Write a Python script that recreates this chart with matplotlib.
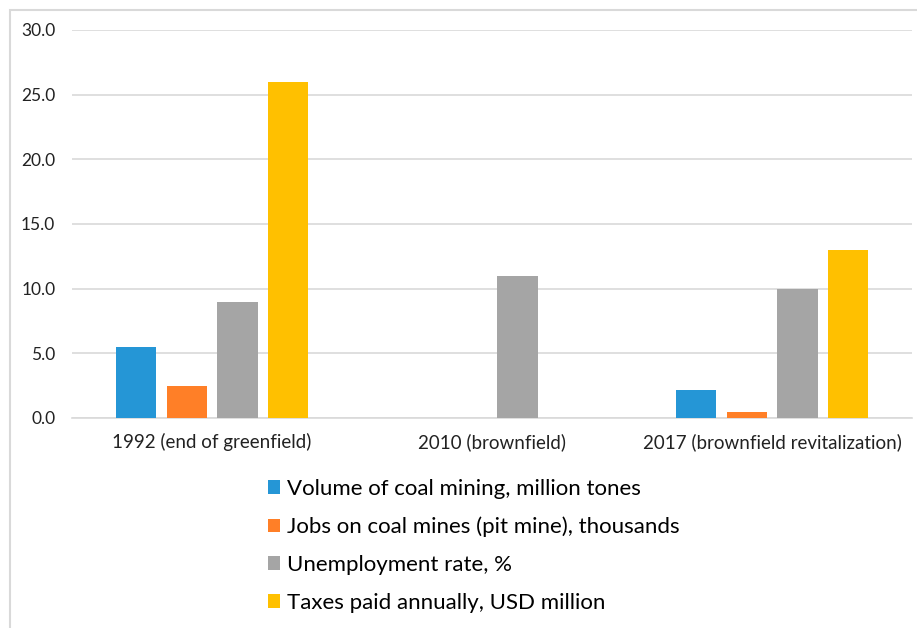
import matplotlib.pyplot as plt
import numpy as np
from matplotlib.patches import Rectangle

categories = ['1992 (end of greenfield)', '2010 (brownfield)', '2017 (brownfield revitalization)']
series_names = ['Volume of coal mining, million tones',
                'Jobs on coal mines (pit mine), thousands',
                'Unemployment rate, %',
                'Taxes paid annually, USD million']
coal_volume = [5.5, 0, 2.2]
coal_jobs = [2.5, 0, 0.5]
unemployment = [9, 11, 10]
taxes = [26, 0, 13]
colors = ['#2596D6', '#FF7F27', '#A5A5A5', '#FFC000']

plt.rcParams['font.family'] = ['Lato', 'DejaVu Sans']

fig = plt.figure(figsize=(9.17, 6.28), dpi=100)
ax = fig.add_axes([72/917, 1-418/628, 840/917, 388/628])

x = np.arange(len(categories))
step = 0.182
width = 0.143
for i, (vals, name, c) in enumerate(zip([coal_volume, coal_jobs, unemployment, taxes], series_names, colors)):
    ax.bar(x + (i - 1.5) * step, vals, width, color=c, label=name, zorder=3)

ax.set_xlim(-0.5, 2.5)
ax.set_ylim(0, 30)
ax.set_yticks(np.arange(0, 31, 5))
ax.set_yticklabels([f'{v:.1f}' for v in np.arange(0, 31, 5)], fontsize=12.5)
ax.set_xticks(x)
ax.set_xticklabels(categories, fontsize=13.5)
ax.tick_params(length=0, colors='#222222')
ax.tick_params(axis='x', pad=11)
ax.tick_params(axis='y', pad=12)
ax.grid(axis='y', color='#D9D9D9', linewidth=1.2, zorder=0)
for s in ['top', 'right', 'left']:
    ax.spines[s].set_visible(False)
ax.spines['bottom'].set_color('#D9D9D9')
ax.spines['bottom'].set_linewidth(1.2)

leg = fig.legend(loc='upper left', bbox_to_anchor=(259/917, 1-470/628), frameon=False,
                 fontsize=16, handlelength=0.55, handleheight=0.55, handletextpad=0.3,
                 labelspacing=0.8, borderaxespad=0)

# outer border
fig.patches.append(Rectangle((10/917, -0.1), 1.2, 1 - 10/628 + 0.1, transform=fig.transFigure,
                             fill=False, edgecolor='#D9D9D9', linewidth=1.5))

fig.savefig('out.png', dpi=100)
